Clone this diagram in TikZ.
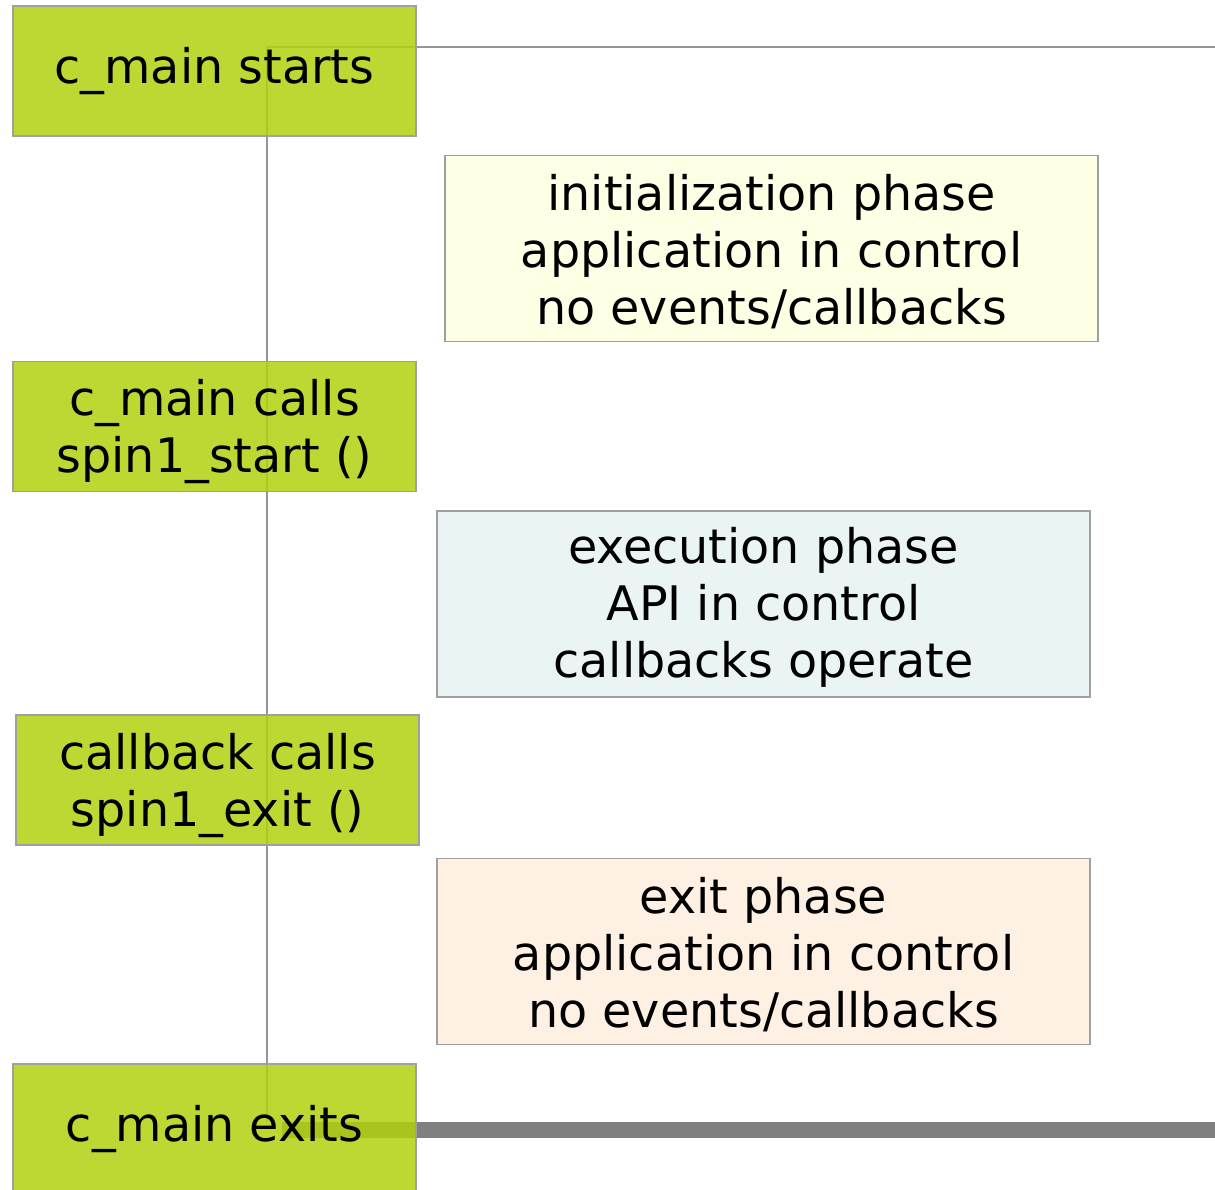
\documentclass[tikz,border=0pt]{standalone}
\usepackage{fontspec}
\setmainfont{DejaVu Sans}
\definecolor{stepgreen}{RGB}{178,209,14}
\definecolor{initfill}{RGB}{255,255,230}
\definecolor{execfill}{RGB}{234,244,244}
\definecolor{exitfill}{RGB}{255,240,228}
\definecolor{edgegray}{RGB}{160,160,160}
\definecolor{linegray}{RGB}{150,150,150}
\definecolor{barGray}{RGB}{128,128,128}
% a taller first line pushes the text block down inside its box
\newcommand{\firstline}[1]{\rule{0pt}{#1}}
\tikzset{
  event/.style={draw=edgegray, line width=1.3pt, fill=stepgreen, fill opacity=0.85,
    text opacity=1, minimum width=403pt, minimum height=130pt, inner sep=0pt,
    align=center, font=\fontsize{47.6}{57}\selectfont},
  phase/.style={draw=edgegray, line width=1.3pt, minimum width=653pt,
    minimum height=186pt, inner sep=0pt, align=center,
    font=\fontsize{47.6}{57}\selectfont},
  thinline/.style={draw=linegray, line width=1.3pt},
  thickline/.style={draw=barGray, line width=16pt}
}
\begin{document}
\begin{tikzpicture}[x=1pt,y=-1pt]
\useasboundingbox (0,0) rectangle (1215,1190);
% timeline
\coordinate (top) at (267,47);
\coordinate (topend) at (1215,47);
\coordinate (bottom) at (267,1122);
\coordinate (barstart) at (282,1130);
\coordinate (barend) at (1215,1130);
\draw[thinline] (topend) -- (top) -- (bottom);
\draw[thickline] (barstart) -- (barend);
% events along the timeline
\node[event] (start) at (214.5,71) {c\_main starts};
\node[event] (spinstart) at (214.5,426.5) {\firstline{47pt}c\_main calls\\spin1\_start ()};
\node[event] (spinexit) at (217.5,780) {\firstline{47pt}callback calls\\spin1\_exit ()};
\node[event] (exits) at (214.5,1129) {c\_main exits};
% phases
\node[phase, fill=initfill] (init) at (771.5,248.5)
  {\firstline{43pt}initialization phase\\application in control\\no events/callbacks};
\node[phase, fill=execfill] (exec) at (763.5,604)
  {\firstline{43pt}execution phase\\API in control\\callbacks operate};
\node[phase, fill=exitfill] (exitp) at (763.5,951.5)
  {\firstline{43pt}exit phase\\application in control\\no events/callbacks};
\end{tikzpicture}
\end{document}
